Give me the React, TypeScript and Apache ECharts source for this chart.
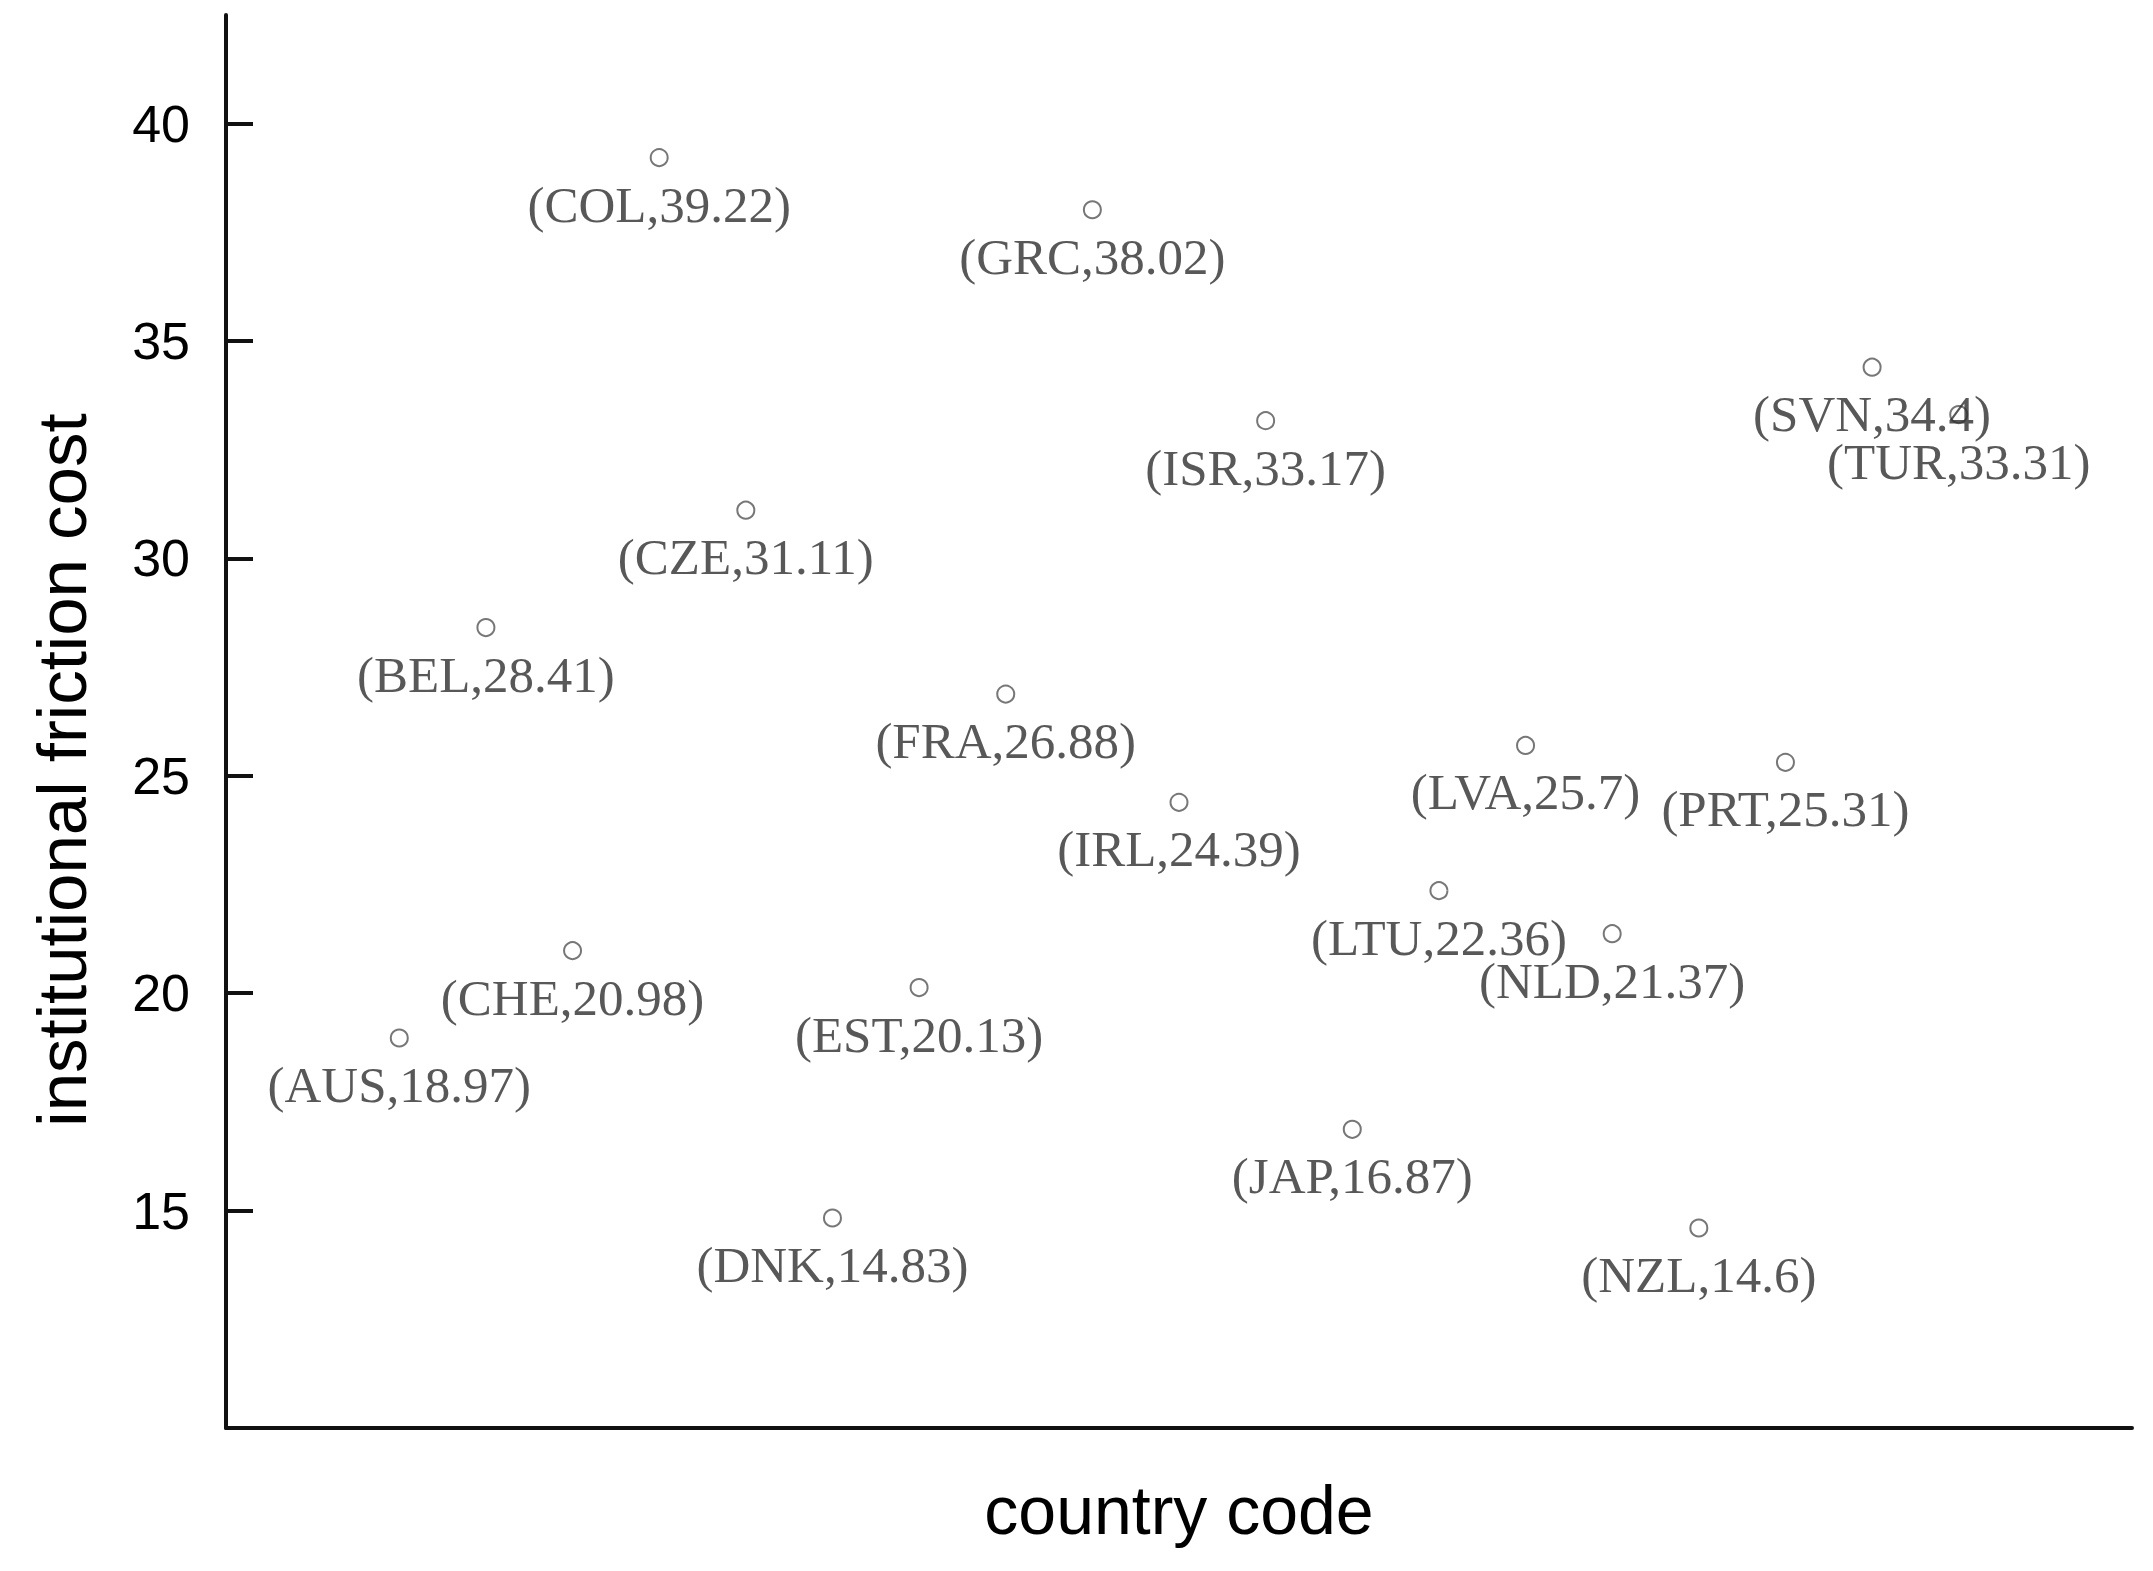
import React, { useEffect, useRef } from "react";
import * as echarts from "echarts";

const countries = ["AUS", "BEL", "CHE", "COL", "CZE", "DNK", "EST", "FRA", "GRC", "IRL", "ISR", "JAP", "LTU", "LVA", "NLD", "NZL", "PRT", "SVN", "TUR"];
const costs = [18.97, 28.41, 20.98, 39.22, 31.11, 14.83, 20.13, 26.88, 38.02, 24.39, 33.17, 16.87, 22.36, 25.7, 21.37, 14.6, 25.31, 34.4, 33.31];
const yTicks = [15, 20, 25, 30, 35, 40];

export default function App() {
  const ref = useRef<HTMLDivElement>(null);
  useEffect(() => {
    if (!ref.current) return;
    const chart = echarts.init(ref.current, undefined, { renderer: "svg" });
    const data = countries.map((c, i) => ({ name: c, value: [i + 2, costs[i]] }));
    chart.setOption({
      animation: false,
      backgroundColor: "#ffffff",
      grid: { left: 226, right: 21, top: 15, bottom: 143 },
      xAxis: {
        type: "value",
        min: 0,
        max: 22,
        name: "country code",
        nameLocation: "middle",
        nameGap: 48,
        nameTextStyle: { fontFamily: "Liberation Sans", fontSize: 68, color: "#000" },
        axisLine: { show: true, lineStyle: { color: "#111", width: 4 } },
        axisTick: { show: false },
        axisLabel: { show: false },
        splitLine: { show: false },
      },
      yAxis: {
        type: "value",
        min: 10,
        max: 42.5,
        interval: 5,
        axisLine: { show: true, lineStyle: { color: "#111", width: 4 } },
        axisTick: { show: true, inside: true, length: 27, lineStyle: { color: "#111", width: 4 }, customValues: yTicks },
        axisLabel: { show: true, margin: 36, fontFamily: "Liberation Sans", fontSize: 52, color: "#000", customValues: yTicks },
        splitLine: { show: false },
      },
      graphic: [
        {
          type: "text",
          x: 62,
          y: 770,
          rotation: Math.PI / 2,
          style: {
            text: "institutional friction cost",
            font: "69px 'Liberation Sans'",
            fill: "#000",
            textAlign: "center",
            textVerticalAlign: "middle",
          },
        },
      ],
      series: [
        {
          type: "scatter",
          symbol: "emptyCircle",
          symbolSize: 17,
          itemStyle: { color: "#555", borderColor: "#555", borderWidth: 3.5 },
          label: {
            show: true,
            position: "inside",
            offset: [0, 47],
            formatter: (p: any) => `(${p.name},${p.value[1]})`,
            fontFamily: "Liberation Serif",
            fontSize: 51,
            color: "#2e2e2e",
          },
          data,
        },
      ],
    });
    return () => chart.dispose();
  }, []);
  return <div ref={ref} style={{ position: "fixed", left: 0, top: 0, width: 2153, height: 1571 }} />;
}
